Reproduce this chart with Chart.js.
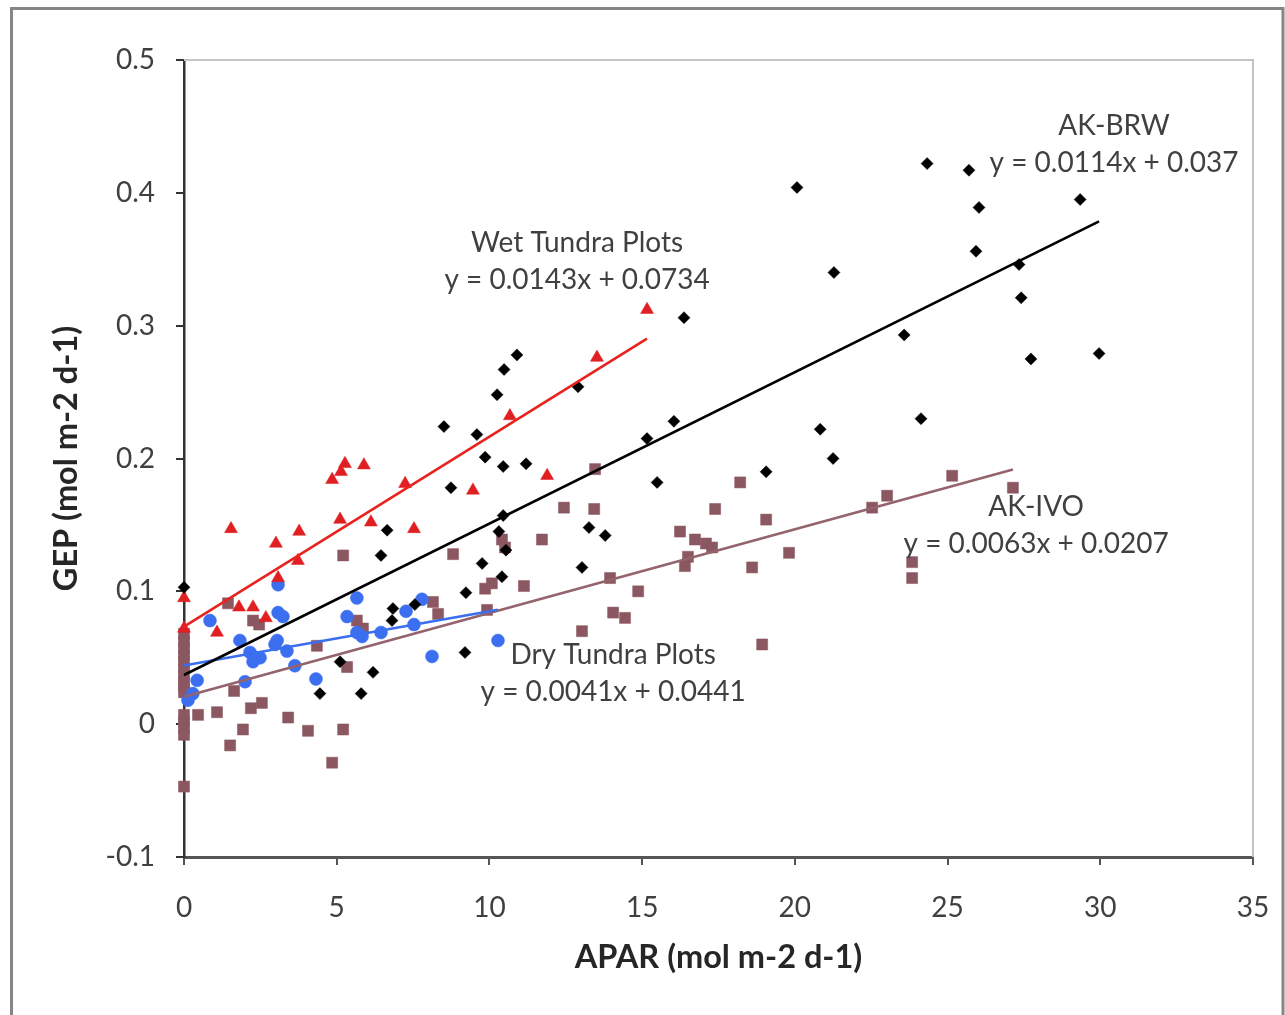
<!DOCTYPE html>
<html><head><meta charset="utf-8">
<script src="https://cdn.jsdelivr.net/npm/chart.js@4.4.0/dist/chart.umd.min.js"></script>
<style>html,body{margin:0;padding:0;background:#fff;}canvas{display:block;}</style>
</head><body>
<canvas id="c" width="1285" height="1015"></canvas>
<script>
// ---- data ----
const brwX = [0, 4.45, 5.11, 5.80, 6.19, 6.45, 6.65, 6.81, 6.84, 7.56, 8.51, 8.74, 9.20, 9.23, 9.59, 9.76, 9.86, 10.25, 10.41, 10.45, 10.45, 10.31, 10.54, 10.48, 10.90, 11.20, 12.90, 13.03, 13.26, 13.79, 15.16, 15.49, 16.04, 16.37, 19.06, 20.07, 20.83, 21.25, 21.28, 23.58, 24.13, 24.33, 25.70, 25.93, 26.03, 27.34, 27.41, 27.73, 29.34, 29.96];
const brwY = [0.103, 0.023, 0.047, 0.023, 0.039, 0.127, 0.146, 0.078, 0.087, 0.090, 0.224, 0.178, 0.054, 0.099, 0.218, 0.121, 0.201, 0.248, 0.111, 0.194, 0.157, 0.145, 0.131, 0.267, 0.278, 0.196, 0.254, 0.118, 0.148, 0.142, 0.215, 0.182, 0.228, 0.306, 0.190, 0.404, 0.222, 0.200, 0.340, 0.293, 0.230, 0.422, 0.417, 0.356, 0.389, 0.346, 0.321, 0.275, 0.395, 0.279];

const wetX = [0, 0, 1.08, 1.54, 1.80, 2.26, 2.68, 3.01, 3.77, 3.73, 3.08, 4.85, 5.14, 5.27, 5.89, 5.11, 6.12, 7.24, 7.53, 9.46, 10.67, 11.89, 13.52, 15.16];
const wetY = [0.095, 0.072, 0.069, 0.147, 0.088, 0.088, 0.080, 0.136, 0.145, 0.123, 0.110, 0.184, 0.190, 0.196, 0.195, 0.154, 0.152, 0.181, 0.147, 0.176, 0.232, 0.187, 0.276, 0.312];

const dryX = [0.13, 0.29, 0.43, 0.85, 1.83, 2.00, 2.16, 2.26, 2.39, 2.49, 2.98, 3.05, 3.08, 3.08, 3.24, 3.37, 3.63, 4.32, 5.34, 5.66, 5.66, 5.83, 6.45, 7.27, 7.53, 7.79, 8.12, 10.28];
const dryY = [0.018, 0.023, 0.033, 0.078, 0.063, 0.032, 0.054, 0.047, 0.050, 0.050, 0.060, 0.063, 0.105, 0.084, 0.081, 0.055, 0.044, 0.034, 0.081, 0.095, 0.069, 0.066, 0.069, 0.085, 0.075, 0.094, 0.051, 0.063];

const ivoX = [0, 0, 0, 0, 0, 0, 0, 0, 0, 0, 0, 0, 0, 0, 0,
  0.46, 1.08, 1.44, 1.64, 1.93, 1.51, 2.19, 2.55, 2.26, 2.46, 3.41, 4.06, 4.35, 4.85, 5.21, 5.34, 5.21, 5.66, 5.86,
  8.15, 8.32, 8.81, 9.86, 10.08, 9.92, 10.41, 10.51, 11.13, 11.72, 12.44, 13.03, 13.43, 13.46, 13.95, 14.05, 14.44, 14.87,
  16.24, 16.40, 16.50, 16.73, 17.09, 17.29, 17.39, 18.21, 18.60, 18.93, 19.06, 19.81, 22.53, 23.02, 23.84, 23.84, 25.15, 27.14];
const ivoY = [0.068, 0.062, 0.057, 0.052, 0.047, 0.042, 0.037, 0.032, 0.028, 0.024, 0.007, 0.002, -0.003, -0.008, -0.047,
  0.007, 0.009, 0.091, 0.025, -0.004, -0.016, 0.012, 0.016, 0.078, 0.075, 0.005, -0.005, 0.059, -0.029, -0.004, 0.043, 0.127, 0.078, 0.072,
  0.092, 0.083, 0.128, 0.102, 0.106, 0.086, 0.139, 0.133, 0.104, 0.139, 0.163, 0.070, 0.162, 0.192, 0.110, 0.084, 0.080, 0.100,
  0.145, 0.119, 0.126, 0.139, 0.136, 0.133, 0.162, 0.182, 0.118, 0.060, 0.154, 0.129, 0.163, 0.172, 0.122, 0.110, 0.187, 0.178];

// trend line end points (from the printed equations)
const trendBrwX = [0, 29.96], trendBrwY = [0.037, 0.3785];
const trendWetX = [0, 15.16], trendWetY = [0.0734, 0.2902];
const trendDryX = [0, 10.28], trendDryY = [0.0441, 0.0862];
const trendIvoX = [0, 27.14], trendIvoY = [0.0207, 0.1917];

const seriesNames = ['AK-BRW', 'Wet Tundra Plots', 'Dry Tundra Plots', 'AK-IVO'];
const equations = ['y = 0.0114x + 0.037', 'y = 0.0143x + 0.0734', 'y = 0.0041x + 0.0441', 'y = 0.0063x + 0.0207'];

const xTitle = 'APAR (mol m-2 d-1)';
const yTitle = 'GEP (mol m-2 d-1)';

const zip = (xs, ys) => xs.map((x, i) => ({x: x, y: ys[i]}));

const FONT = 'Lato, "Open Sans", sans-serif';
const TXT = '#404040';

const trendDs = (label, xs, ys, color) => ({
  label, data: zip(xs, ys), showLine: true, borderColor: color, borderWidth: 2.6,
  pointRadius: 0, pointHoverRadius: 0, fill: false, clip: false
});
const pointDs = (label, xs, ys, color, style, r) => ({
  label, data: zip(xs, ys), showLine: false, pointStyle: style, pointRadius: r,
  pointBackgroundColor: color, pointBorderColor: color, pointBorderWidth: 0.5, clip: false
});

const annotationPlugin = {
  id: 'trendLabels',
  afterDatasetsDraw(chart, args, opts) {
    const {ctx, scales: {x, y}} = chart;
    ctx.save();
    ctx.font = opts.size + 'px ' + FONT;
    ctx.fillStyle = TXT;
    ctx.textAlign = 'center';
    ctx.textBaseline = 'middle';
    opts.items.forEach(it => {
      const px = x.getPixelForValue(it.x), py = y.getPixelForValue(it.y);
      ctx.fillText(seriesNames[it.idx], px, py);
      ctx.fillText(equations[it.idx], px, py + opts.gap);
    });
    ctx.restore();
  }
};

const framePlugin = {
  id: 'frame',
  beforeDraw(chart) {
    const {ctx, width, height} = chart;
    ctx.save();
    ctx.fillStyle = '#fff';
    ctx.fillRect(0, 0, width, height);
    ctx.strokeStyle = '#858585';
    ctx.lineWidth = 3;
    ctx.strokeRect(11.5, 8.5, 1271.5, height + 20);
    ctx.restore();
  },
  beforeDatasetsDraw(chart) {
    const {ctx, chartArea: a} = chart;
    ctx.save();
    ctx.strokeStyle = '#c4c4c4';
    ctx.lineWidth = 2;
    ctx.beginPath();
    ctx.moveTo(a.left, a.top);
    ctx.lineTo(a.right, a.top);
    ctx.lineTo(a.right, a.bottom);
    ctx.stroke();
    ctx.restore();
  }
};

new Chart(document.getElementById('c'), {
  type: 'scatter',
  data: {
    datasets: [
      trendDs('BRW trend', trendBrwX, trendBrwY, '#000000'),
      trendDs('Wet trend', trendWetX, trendWetY, '#e8231f'),
      trendDs('Dry trend', trendDryX, trendDryY, '#3a6ff0'),
      trendDs('IVO trend', trendIvoX, trendIvoY, '#94636b'),
      pointDs(seriesNames[0], brwX, brwY, '#000000', 'rectRot', 6),
      pointDs(seriesNames[1], wetX, wetY, '#e01f22', 'triangle', 7.5),
      pointDs(seriesNames[2], dryX, dryY, '#3c6ff0', 'circle', 6.5),
      pointDs(seriesNames[3], ivoX, ivoY, '#8b5760', 'rect', 7.8)
    ]
  },
  options: {
    responsive: false,
    animation: false,
    events: [],
    layout: {padding: {left: 0, right: 32, top: 60, bottom: 0}},
    plugins: {
      legend: {display: false},
      tooltip: {enabled: false},
      trendLabels: {
        size: 28, gap: 37,
        items: [
          {idx: 0, x: 30.45, y: 0.4503},
          {idx: 1, x: 12.87, y: 0.3622},
          {idx: 2, x: 14.05, y: 0.0520},
          {idx: 3, x: 27.90, y: 0.1634}
        ]
      }
    },
    scales: {
      x: {
        type: 'linear', position: 'bottom', min: 0, max: 35,
        ticks: {stepSize: 5, font: {family: FONT, size: 28}, color: TXT, padding: 26, maxRotation: 0},
        grid: {drawOnChartArea: false, drawTicks: true, tickLength: 8, color: '#555', lineWidth: 2},
        border: {display: true, color: '#555', width: 3},
        title: {display: true, text: xTitle, font: {family: FONT, size: 32.5, weight: 'bold'}, color: '#262626', padding: {top: 0, bottom: 38}},
        afterFit: s => { s.height = 158; s.paddingLeft = 0; s.paddingRight = 0; }
      },
      y: {
        type: 'linear', position: 'left', min: -0.1, max: 0.5,
        ticks: {stepSize: 0.1, font: {family: FONT, size: 28}, color: TXT, padding: 21,
          callback: v => { const r = Math.round(v * 10) / 10; return r === 0 ? '0' : String(r); }},
        grid: {drawOnChartArea: false, drawTicks: true, tickLength: 8, color: '#333', lineWidth: 2},
        border: {display: true, color: '#333', width: 2.5},
        title: {display: true, text: yTitle, font: {family: FONT, size: 32.5, weight: 'bold'}, color: '#262626', padding: {top: 47, bottom: 0}},
        afterFit: s => { s.width = 184; s.paddingTop = 0; s.paddingBottom = 0; }
      }
    }
  },
  plugins: [framePlugin, annotationPlugin]
});
</script>
</body></html>
